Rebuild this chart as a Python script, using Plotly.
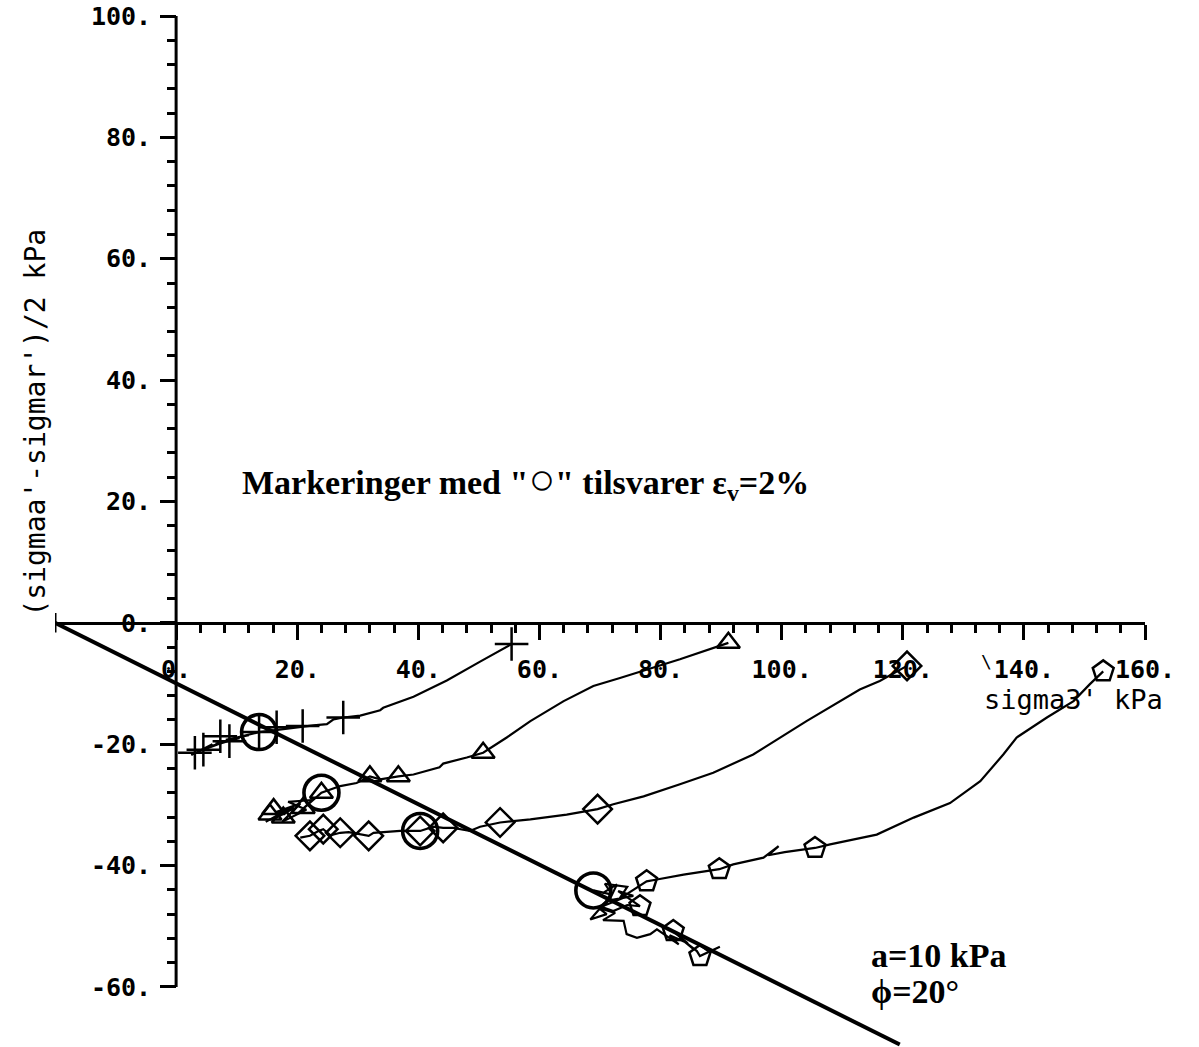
import plotly.graph_objects as go

# ---- axis set-up -------------------------------------------------------
X_RANGE = [-20, 160]
Y_RANGE = [-69.9, 100]

X_MAJOR = list(range(0, 161, 20))
X_MAJOR_TEXT = [f"{v}." for v in X_MAJOR]
X_MINOR = [v for v in range(0, 161, 4) if v % 20]

Y_MAJOR = list(range(-60, 101, 20))
Y_MAJOR_TEXT = [f"{v}." for v in Y_MAJOR]
Y_MINOR = [v for v in range(-60, 101, 4) if v % 20]

# ---- failure envelope (a = 10 kPa, phi = 20 deg) -----------------------
ENV_X = [-20.0, 119.5]
ENV_Y = [0.0, -69.5]

# ---- stress paths ------------------------------------------------------
PLUS_X = [2.5, 6.0, 3.5, 7.5, 4.8, 9.0, 6.5, 10.5, 8.2, 12.0, 10.0, 13.7, 16.9,
          18.3, 22.7, 24.9, 26.0, 27.6, 30.4, 33.7, 34.2, 39.2, 44.7, 50.2, 55.4]
PLUS_Y = [-21.8, -20.0, -21.3, -19.8, -20.6, -19.4, -19.9, -19.0, -19.3, -18.5,
          -18.9, -18.0, -17.6, -17.4, -16.9, -16.7, -15.9, -15.6, -15.3, -14.4,
          -14.0, -12.2, -9.5, -6.4, -3.5]
PLUS_MX = [3.1, 4.5, 7.3, 8.8, 13.7, 16.6, 20.9, 27.6, 55.4]
PLUS_MY = [-21.4, -20.9, -18.7, -19.5, -18.0, -17.2, -17.0, -15.6, -3.5]

TRI_X = [14.8, 18.0, 15.8, 19.5, 16.5, 20.5, 17.5, 21.5, 18.5, 22.5, 20.0, 24.0,
         27.1, 29.8, 32.0, 33.7, 36.7, 39.2, 43.5, 44.1, 48.0, 50.7, 54.6, 58.5,
         64.0, 68.9, 73.3, 77.7, 83.2, 91.2]
TRI_Y = [-32.8, -31.0, -32.5, -30.5, -31.2, -29.8, -32.8, -30.8, -29.5, -29.2,
         -31.5, -28.0, -26.9, -26.4, -25.3, -25.8, -25.3, -25.0, -23.8, -23.2,
         -22.2, -21.4, -18.9, -16.2, -12.9, -10.4, -9.1, -7.7, -6.0, -3.3]
TRI_MX = [15.5, 16.1, 17.7, 21.0, 24.0, 32.0, 36.7, 50.7, 91.2]
TRI_MY = [-31.6, -30.7, -32.1, -30.5, -28.0, -25.3, -25.3, -21.4, -3.3]

DIA_X = [20.5, 22.1, 23.5, 24.3, 25.5, 27.1, 28.5, 31.8, 32.6, 37.0, 40.3, 42.5,
         44.1, 45.8, 48.5, 50.2, 53.5, 58.5, 64.5, 69.6, 72.2, 77.2, 83.2, 88.7,
         95.3, 104.1, 112.9, 116.2, 120.7]
DIA_Y = [-35.4, -35.1, -34.3, -34.0, -35.0, -34.6, -34.5, -35.1, -34.6, -34.3,
         -34.3, -33.6, -33.8, -33.8, -34.3, -33.6, -32.9, -32.4, -31.6, -30.7,
         -29.9, -28.6, -26.6, -24.7, -21.7, -16.2, -11.0, -9.6, -7.1]
DIA_MX = [22.1, 24.3, 27.1, 31.8, 40.3, 44.1, 53.5, 69.6, 120.7]
DIA_MY = [-35.1, -34.0, -34.6, -35.1, -34.3, -33.8, -32.9, -30.7, -7.1]

PENT_X = [89.8, 86.5, 86.0, 83.8, 85.5, 82.1, 84.5, 81.5, 83.0, 79.4, 78.3, 76.1,
          74.4, 73.9, 70.5, 72.5, 69.8, 71.1, 68.4, 71.1, 73.9, 70.2, 72.2, 74.5,
          76.6, 73.0, 75.5, 71.5, 72.8, 70.5, 68.9, 72.0, 70.8, 74.5, 73.2, 77.7,
          79.4, 83.8, 89.7, 92.0, 97.0, 99.5, 97.8, 100.5, 105.5, 108.0, 115.7,
          121.8, 127.8, 132.8, 136.6, 138.8, 143.8, 148.2, 150.9, 153.1]
PENT_Y = [-53.4, -54.9, -54.1, -52.4, -53.8, -50.8, -52.8, -51.5, -53.0, -50.5,
          -51.3, -51.9, -51.3, -49.1, -49.0, -47.8, -47.0, -48.0, -48.9, -45.8,
          -45.3, -46.8, -47.5, -46.5, -46.7, -44.2, -45.0, -45.8, -43.1, -44.5,
          -44.1, -44.8, -43.0, -43.5, -45.5, -42.6, -42.3, -41.5, -40.6, -39.8,
          -38.7, -36.8, -38.3, -37.8, -37.1, -36.5, -34.9, -32.1, -29.7, -26.1,
          -21.7, -18.9, -15.6, -12.9, -10.1, -8.0]
PENT_MX = [86.5, 82.1, 76.6, 77.7, 89.7, 105.5, 153.1]
PENT_MY = [-54.9, -50.8, -46.7, -42.6, -40.6, -37.1, -8.0]

# points where the volumetric strain reaches 2 %
EV2_X = [13.7, 24.0, 40.3, 68.9]
EV2_Y = [-18.0, -28.0, -34.3, -44.1]

INK = "black"
MONO = "DejaVu Sans Mono"
SERIF = "Liberation Serif"

fig = go.Figure()

fig.add_trace(go.Scatter(x=ENV_X, y=ENV_Y, mode="lines",
                         line=dict(color=INK, width=4), hoverinfo="skip"))

series = [
    (PLUS_X, PLUS_Y, PLUS_MX, PLUS_MY, "cross-thin-open", 24),
    (TRI_X, TRI_Y, TRI_MX, TRI_MY, "triangle-up-open", 20),
    (DIA_X, DIA_Y, DIA_MX, DIA_MY, "diamond-open", 22),
    (PENT_X, PENT_Y, PENT_MX, PENT_MY, "pentagon-open", 22),
]
for lx, ly, mx, my, sym, size in series:
    fig.add_trace(go.Scatter(x=lx, y=ly, mode="lines",
                             line=dict(color=INK, width=2.2)))
    fig.add_trace(go.Scatter(x=mx, y=my, mode="markers",
                             marker=dict(symbol=sym, size=size, color=INK,
                                         line=dict(color=INK, width=2.5))))

fig.add_trace(go.Scatter(x=EV2_X, y=EV2_Y, mode="markers",
                         marker=dict(symbol="circle-open", size=35, color=INK,
                                     line=dict(color=INK, width=3.6))))

x_pos = (0 - Y_RANGE[0]) / (Y_RANGE[1] - Y_RANGE[0])
y_pos = (0 - X_RANGE[0]) / (X_RANGE[1] - X_RANGE[0])

tick_font = dict(family=MONO, size=25, color=INK, weight="bold")

fig.update_layout(
    width=1199, height=1047,
    margin=dict(l=55, r=54, t=16, b=0),
    paper_bgcolor="white", plot_bgcolor="white",
    showlegend=False,
    xaxis=dict(
        range=X_RANGE, anchor="free", position=x_pos,
        showgrid=False, zeroline=False,
        showline=True, linecolor=INK, linewidth=3,
        tickmode="array", tickvals=X_MAJOR, ticktext=X_MAJOR_TEXT,
        ticks="outside", ticklen=15, tickwidth=3, tickcolor=INK,
        ticklabelstandoff=8,
        tickfont=tick_font,
        minor=dict(tickmode="array", tickvals=X_MINOR, ticks="outside",
                   ticklen=8, tickwidth=3, tickcolor=INK, showgrid=False),
    ),
    yaxis=dict(
        range=Y_RANGE, anchor="free", position=y_pos,
        showgrid=False, zeroline=False, showline=False,
        tickmode="array", tickvals=Y_MAJOR, ticktext=Y_MAJOR_TEXT,
        ticks="outside", ticklen=16, tickwidth=3, tickcolor=INK,
        ticklabelstandoff=4,
        tickfont=tick_font,
        minor=dict(tickmode="array", tickvals=Y_MINOR, ticks="outside",
                   ticklen=9, tickwidth=3, tickcolor=INK, showgrid=False),
    ),
    shapes=[
        dict(type="line", xref="x", yref="y", x0=0, x1=0, y0=-60, y1=100,
             line=dict(color=INK, width=3)),
        dict(type="line", xref="x", yref="y", x0=-20, x1=-20, y0=-1.6, y1=1.6,
             line=dict(color=INK, width=3)),
    ],
    annotations=[
        dict(xref="paper", yref="paper", x=-0.018, y=0.606,
             text="(sigmaa'-sigmar')/2 kPa", textangle=-90, showarrow=False,
             font=dict(family=MONO, size=28, color=INK),
             xanchor="center", yanchor="middle"),
        dict(xref="x", yref="y", x=133.1, y=-12.6, text="sigma3' kPa",
             showarrow=False, xanchor="left", yanchor="middle",
             font=dict(family=MONO, size=27, color=INK)),
        dict(xref="x", yref="y", x=133.8, y=-6.3, text="\\",
             showarrow=False, xanchor="center", yanchor="middle",
             font=dict(family=MONO, size=18, color=INK)),
        dict(xref="x", yref="y", x=10.6, y=23.4,
             text='Markeringer med "<span style="font-size:44px;font-weight:normal">\u25CB</span>" '
                  'tilsvarer \u03B5<sub>v</sub>=2%',
             showarrow=False, xanchor="left", yanchor="middle",
             font=dict(family=SERIF, size=34, color=INK, weight="bold")),
        dict(xref="x", yref="y", x=114.4, y=-54.9, text="a=10 kPa",
             showarrow=False, xanchor="left", yanchor="middle",
             font=dict(family=SERIF, size=34, color=INK, weight="bold")),
        dict(xref="x", yref="y", x=114.4, y=-60.7, text="\u03D5=20\u00B0",
             showarrow=False, xanchor="left", yanchor="middle",
             font=dict(family=SERIF, size=34, color=INK, weight="bold")),
    ],
)

fig.write_html("out.html")
